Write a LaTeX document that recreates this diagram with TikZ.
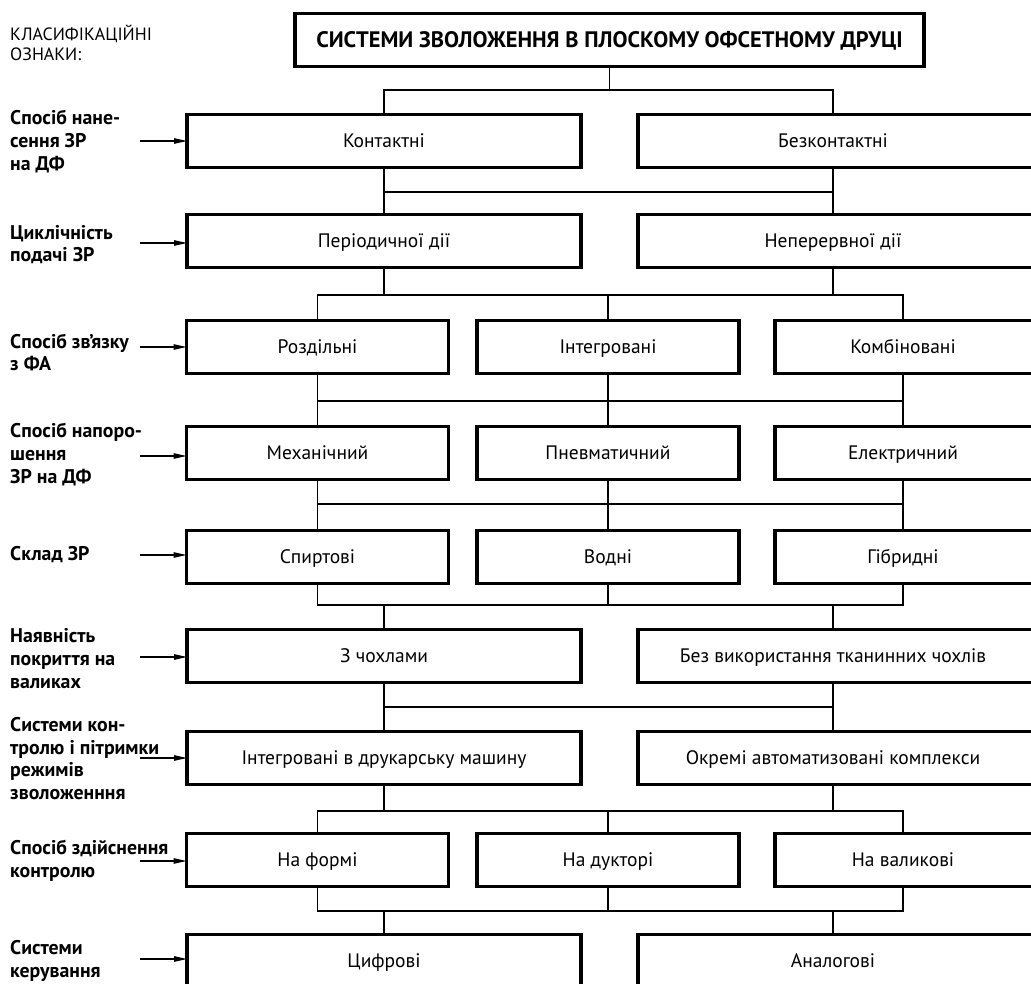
\documentclass[tikz,border=0pt]{standalone}
\usepackage{fontspec}
\setmainfont{PT Sans}
\usetikzlibrary{arrows.meta}
\begin{document}
\begin{tikzpicture}[x=1pt,y=-1pt,
  box/.style={draw=black, line width=3.4pt, outer sep=0pt, inner sep=0pt,
    minimum height=53pt, text height=14pt, text depth=1pt,
    font=\fontsize{19.5}{22}\selectfont},
  obox/.style={draw=none, line width=3.4pt, outer sep=0pt, inner sep=0pt,
    minimum height=53pt, text height=14pt, text depth=1pt,
    font=\fontsize{19.5}{22}\selectfont},
  wideL/.style={minimum width=394pt},
  wideR/.style={minimum width=390pt},
  thirdL/.style={minimum width=262pt},
  thirdM/.style={minimum width=262pt},
  thirdR/.style={minimum width=256pt},
  border/.style={line width=3.4pt, line join=miter},
  conn/.style={line width=1.1pt},
  arr/.style={line width=1.1pt, -{Triangle[length=13pt,width=5.5pt]}},
  lab/.style={anchor=west, align=left, inner sep=0pt,
    font=\bfseries\fontsize{19.8}{22.7}\selectfont},
]
\newcommand\openright[1]{\draw[border] ([xshift=20pt]#1.north east) -- (#1.north west) -- (#1.south west) -- ([xshift=20pt]#1.south east);}
\fill[white] (0,0) rectangle (1031,984);
\useasboundingbox (0,0) rectangle (1031,984);
\clip (0,0) rectangle (1031,984);

% title
\node[draw=black, line width=3.4pt, outer sep=0pt, inner sep=0pt,
  minimum width=629pt, minimum height=52.5pt, text height=16pt, text depth=0pt,
  font=\bfseries\fontsize{22.4}{26}\selectfont] (t) at (609.5,40)
  {СИСТЕМИ ЗВОЛОЖЕННЯ В ПЛОСКОМУ ОФСЕТНОМУ ДРУЦІ};
\node[anchor=west, align=left, inner sep=0pt,
  font=\fontsize{17.8}{20.5}\selectfont] (l0) at (10,43)
  {КЛАСИФІКАЦІЙНІ\\ОЗНАКИ:};

% row 1
\node[box, wideL] (r1a) at (384,141) {Контактні};
\node[obox, wideR] (r1b) at (833,141) {Безконтактні};
% row 2
\node[box, wideL] (r2a) at (384,241) {Періодичної дії};
\node[obox, wideR] (r2b) at (833,241) {Неперервної дії};
% row 3
\node[box, thirdL] (r3a) at (317.5,347) {Роздільні};
\node[box, thirdM] (r3b) at (608,347) {Інтегровані};
\node[obox, thirdR] (r3c) at (903,347) {Комбіновані};
% row 4
\node[box, thirdL] (r4a) at (317.5,453) {Механічний};
\node[box, thirdM] (r4b) at (608,453) {Пневматичний};
\node[obox, thirdR] (r4c) at (903,453) {Електричний};
% row 5
\node[box, thirdL] (r5a) at (317.5,557) {Спиртові};
\node[box, thirdM] (r5b) at (608,557) {Водні};
\node[obox, thirdR] (r5c) at (903,557) {Гібридні};
% row 6
\node[box, wideL] (r6a) at (384,656) {З чохлами};
\node[obox, wideR] (r6b) at (833,656) {Без використання тканинних чохлів};
% row 7
\node[box, wideL] (r7a) at (384,758) {Інтегровані в друкарську машину};
\node[obox, wideR] (r7b) at (833,758) {Окремі автоматизовані комплекси};
% row 8
\node[box, thirdL] (r8a) at (317.5,860) {На формі};
\node[box, thirdM] (r8b) at (608,860) {На дукторі};
\node[obox, thirdR] (r8c) at (903,860) {На валикові};
% row 9
\node[box, wideL] (r9a) at (384,961) {Цифрові};
\node[obox, wideR] (r9b) at (833,961) {Аналогові};

\openright{r1b}\openright{r2b}\openright{r3c}\openright{r4c}\openright{r5c}
\openright{r6b}\openright{r7b}\openright{r8c}\openright{r9b}

% bus levels
\coordinate (h1) at (0,90);
\coordinate (h2) at (0,192);
\coordinate (h3) at (0,295);
\coordinate (h4) at (0,401);
\coordinate (h5) at (0,504);
\coordinate (h6) at (0,605);
\coordinate (h7) at (0,707);
\coordinate (h8) at (0,811);
\coordinate (h9) at (0,911);

\begin{scope}[conn]
% title -> row 1
\draw (t.south) -- (t.south |- h1);
\draw (r1a.north) -- (r1a.north |- h1) -- (r1b.north |- h1) -- (r1b.north);
% row 1 -> row 2
\draw (r1a.south) -- (r2a.north);
\draw (r1b.south) -- (r2b.north);
\draw (r1a.south |- h2) -- (r1b.south |- h2);
% row 2 -> row 3
\draw (r2a.south) -- (r2a.south |- h3);
\draw (r2b.south) -- (r2b.south |- h3);
\draw (r3a.north) -- (r3a.north |- h3) -- (r3c.north |- h3) -- (r3c.north);
\draw (r3b.north) -- (r3b.north |- h3);
% row 3 -> row 4
\draw (r3a.south) -- (r4a.north);
\draw (r3b.south) -- (r4b.north);
\draw (r3c.south) -- (r4c.north);
\draw (r3a.south |- h4) -- (r3c.south |- h4);
% row 4 -> row 5
\draw (r4a.south) -- (r5a.north);
\draw (r4b.south) -- (r5b.north);
\draw (r4c.south) -- (r5c.north);
\draw (r4a.south |- h5) -- (r4c.south |- h5);
% row 5 -> row 6
\draw (r5a.south) -- (r5a.south |- h6) -- (r5c.south |- h6) -- (r5c.south);
\draw (r5b.south) -- (r5b.south |- h6);
\draw (r6a.north) -- (r6a.north |- h6);
\draw (r6b.north) -- (r6b.north |- h6);
% row 6 -> row 7
\draw (r6a.south) -- (r7a.north);
\draw (r6b.south) -- (r7b.north);
\draw (r6a.south |- h7) -- (r6b.south |- h7);
% row 7 -> row 8
\draw (r7a.south) -- (r7a.south |- h8);
\draw (r7b.south) -- (r7b.south |- h8);
\draw (r8a.north) -- (r8a.north |- h8) -- (r8c.north |- h8) -- (r8c.north);
\draw (r8b.north) -- (r8b.north |- h8);
% row 8 -> row 9
\draw (r8a.south) -- (r8a.south |- h9) -- (r8c.south |- h9) -- (r8c.south);
\draw (r8b.south) -- (r8b.south |- h9);
\draw (r9a.north) -- (r9a.north |- h9);
\draw (r9b.north) -- (r9b.north |- h9);
\end{scope}

% left labels
\node[lab] (l1) at (10,141.5) {Спосіб нане-\\сення ЗР\\на ДФ};
\node[lab] (l2) at (10,244.5) {Циклічність\\подачі ЗР};
\node[lab] (l3) at (10,352.5) {Спосіб зв’язку\\з ФА};
\node[lab] (l4) at (10,454.5) {Спосіб напоро-\\шення\\ЗР на ДФ};
\node[lab] (l5) at (10,555) {Склад ЗР};
\node[lab] (l6) at (10,658.5) {Наявність\\покриття на\\валиках};
\node[lab] (l7) at (10,758.5) {Системи кон-\\тролю і пітримки\\режимів\\зволоженння};
\node[lab] (l8) at (10,860.5) {Спосіб здійснення\\контролю};
\node[lab] (l9) at (10,961) {Системи\\керування};

% arrows
\coordinate (a1) at (140,141);
\coordinate (a2) at (140,243);
\coordinate (a3) at (140,347);
\coordinate (a4) at (140,456);
\coordinate (a5) at (140,555);
\coordinate (a6) at (140,657);
\coordinate (a7) at (140,758);
\coordinate (a8) at (140,861);
\coordinate (a9) at (140,959);
\draw[arr] (a1) -- (a1 -| r1a.west);
\draw[arr] (a2) -- (a2 -| r2a.west);
\draw[arr] (a3) -- (a3 -| r3a.west);
\draw[arr] (a4) -- (a4 -| r4a.west);
\draw[arr] (a5) -- (a5 -| r5a.west);
\draw[arr] (a6) -- (a6 -| r6a.west);
\draw[arr] (a7) -- (a7 -| r7a.west);
\draw[arr] (a8) -- (a8 -| r8a.west);
\draw[arr] (a9) -- (a9 -| r9a.west);
\end{tikzpicture}
\end{document}
